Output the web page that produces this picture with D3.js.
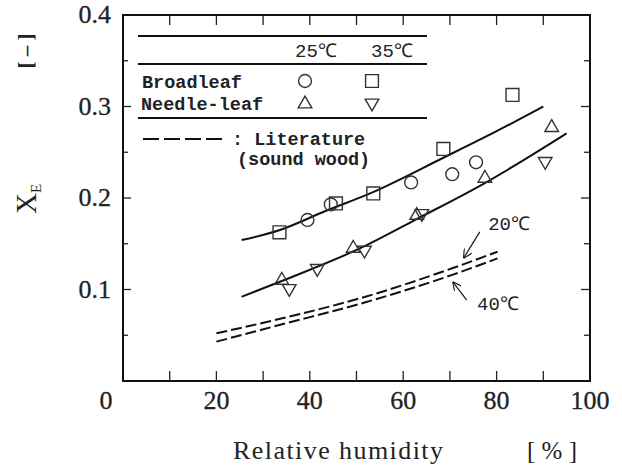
<!DOCTYPE html>
<html lang="en">
<head>
<meta charset="utf-8">
<title>XE vs relative humidity</title>
<style>
body { margin: 0; background: #fff; }
svg { display: block; }
.tick text { font-family: "Liberation Serif", serif; font-size: 26px; fill: #222; stroke: #222; stroke-width: 0.3px; }
.leg { font-family: "Liberation Mono", monospace; font-weight: bold; font-size: 18.5px; fill: #222; }
.temp { font-family: "Liberation Mono", monospace; font-size: 19px; fill: #222; }
</style>
</head>
<body>
<div id="chart"></div>
<script src="https://cdn.jsdelivr.net/npm/d3@7"></script>
<script>

var broad25X = [39.5, 44.5, 61.7, 70.5, 75.6];
var broad25Y = [0.176, 0.193, 0.217, 0.226, 0.239];
var broad35X = [33.5, 45.6, 53.6, 68.6, 83.4];
var broad35Y = [0.1625, 0.194, 0.205, 0.2536, 0.3126];
var needle25X = [34.0, 49.3, 62.9, 77.5, 91.8];
var needle25Y = [0.110, 0.145, 0.181, 0.2215, 0.277];
var needle35X = [35.6, 41.6, 51.7, 64.0, 90.4];
var needle35Y = [0.101, 0.123, 0.143, 0.183, 0.240];

// fitted curves (solid)
var fitBroadX = [25.4, 33.6, 43, 52.9, 68.6, 80, 90];
var fitBroadY = [0.154, 0.165, 0.185, 0.205, 0.244, 0.273, 0.300];
var fitNeedleX = [25.4, 33.6, 51.5, 62.9, 77.2, 95];
var fitNeedleY = [0.092, 0.1085, 0.1468, 0.177, 0.2155, 0.2707];

// literature curves (dashed)
var lit20X = [20, 34.1, 51.9, 70.5, 80.2];
var lit20Y = [0.0521, 0.0685, 0.0921, 0.1232, 0.1413];
var lit40X = [20, 34.1, 51.9, 70.5, 80.2];
var lit40Y = [0.043, 0.062, 0.086, 0.116, 0.134];

var xTickLabels = [20, 40, 60, 80, 100];
var yTickLabels = [0.1, 0.2, 0.3, 0.4];

var svg = d3.select("#chart").append("svg").attr("width", 622).attr("height", 467);

// plot frame (note: "top" is taken by window.top)
var pLeft = 123, pRight = 590, pTop = 15, pBottom = 381;
var x = d3.scaleLinear().domain([0, 100]).range([pLeft, pRight]);
var y = d3.scaleLinear().domain([0, 0.4]).range([pBottom, pTop]);

function zip(xs, ys) { return xs.map(function(d, i) { return [d, ys[i]]; }); }

// ticks, all pointing inward
var xTicks = d3.range(0, 101, 10);
var yTicks = d3.range(0, 0.4001, 0.05);

svg.append("g").selectAll("line").data(xTicks).join("line")
  .attr("x1", d => x(d)).attr("x2", d => x(d))
  .attr("y1", pBottom).attr("y2", pBottom - 10)
  .attr("stroke", "#222").attr("stroke-width", 1.3);
svg.append("g").selectAll("line").data(xTicks).join("line")
  .attr("x1", d => x(d)).attr("x2", d => x(d))
  .attr("y1", pTop).attr("y2", pTop + 10)
  .attr("stroke", "#222").attr("stroke-width", 1.3);
svg.append("g").selectAll("line").data(yTicks).join("line")
  .attr("x1", pLeft).attr("x2", (d, i) => pLeft + (i % 2 ? 5 : 8))
  .attr("y1", d => y(d)).attr("y2", d => y(d))
  .attr("stroke", "#222").attr("stroke-width", 1.3);
svg.append("g").selectAll("line").data(yTicks).join("line")
  .attr("x1", pRight).attr("x2", (d, i) => pRight - (i % 2 ? 6 : 9))
  .attr("y1", d => y(d)).attr("y2", d => y(d))
  .attr("stroke", "#222").attr("stroke-width", 1.3);

svg.append("rect")
  .attr("x", pLeft).attr("y", pTop)
  .attr("width", pRight - pLeft).attr("height", pBottom - pTop)
  .attr("fill", "none").attr("stroke", "#111").attr("stroke-width", 2);

// tick labels
var tl = svg.append("g").attr("class", "tick");
tl.selectAll("text.xl").data(xTickLabels).join("text").attr("class", "xl")
  .attr("x", d => x(d)).attr("y", 409).attr("text-anchor", "middle").text(d => d);
tl.selectAll("text.yl").data(yTickLabels).join("text").attr("class", "yl")
  .attr("x", 111).attr("y", d => y(d) + 8).attr("text-anchor", "end").text(d => d.toFixed(1));
tl.append("text").attr("x", 106).attr("y", 409).attr("text-anchor", "middle").text("0");

// axis titles
svg.append("text")
  .attr("x", 233).attr("y", 459)
  .attr("font-family", "Liberation Serif, serif").attr("font-size", 26).attr("fill", "#222")
  .attr("textLength", 210).attr("lengthAdjust", "spacing")
  .text("Relative  humidity");
svg.append("text")
  .attr("x", 552).attr("y", 459).attr("text-anchor", "middle")
  .attr("font-family", "Liberation Serif, serif").attr("font-size", 25).attr("fill", "#222")
  .text("[ % ]");

var yl = svg.append("text")
  .attr("transform", "translate(36,214) rotate(-90)")
  .attr("font-family", "Liberation Serif, serif").attr("font-size", 29).attr("fill", "#222");
yl.append("tspan").text("X");
yl.append("tspan").attr("font-size", 15).attr("dy", 5).text("E");
svg.append("text")
  .attr("transform", "translate(33,51) rotate(-90)")
  .attr("text-anchor", "middle")
  .attr("font-family", "Liberation Serif, serif").attr("font-size", 21).attr("font-weight", "bold").attr("fill", "#222")
  .text("[ – ]");

// curves
var line = d3.line().x(d => x(d[0])).y(d => y(d[1])).curve(d3.curveMonotoneX);

svg.append("path").attr("d", line(zip(fitBroadX, fitBroadY)))
  .attr("fill", "none").attr("stroke", "#111").attr("stroke-width", 2);
svg.append("path").attr("d", line(zip(fitNeedleX, fitNeedleY)))
  .attr("fill", "none").attr("stroke", "#111").attr("stroke-width", 2);
svg.append("path").attr("d", line(zip(lit20X, lit20Y)))
  .attr("fill", "none").attr("stroke", "#111").attr("stroke-width", 2).attr("stroke-dasharray", "11,4");
svg.append("path").attr("d", line(zip(lit40X, lit40Y)))
  .attr("fill", "none").attr("stroke", "#111").attr("stroke-width", 2).attr("stroke-dasharray", "11,4");

// markers
var symCircle = d3.symbol().type(d3.symbolCircle).size(130)();
var symSquare = d3.symbol().type(d3.symbolSquare).size(165)();
var symTri = d3.symbol().type(d3.symbolTriangle).size(80)();

function drawSeries(xs, ys, path, rot) {
  svg.append("g").selectAll("path").data(zip(xs, ys)).join("path")
    .attr("d", path)
    .attr("transform", d => "translate(" + x(d[0]) + "," + y(d[1]) + ") rotate(" + rot + ")")
    .attr("fill", "none").attr("stroke", "#333").attr("stroke-width", 1.4);
}
drawSeries(broad35X, broad35Y, symSquare, 0);
drawSeries(broad25X, broad25Y, symCircle, 0);
drawSeries(needle25X, needle25Y, symTri, 0);
drawSeries(needle35X, needle35Y, symTri, 180);

// temperature annotations with arrows
svg.append("defs").append("marker")
  .attr("id", "arr").attr("viewBox", "0 0 10 10").attr("refX", 10).attr("refY", 5)
  .attr("markerWidth", 9).attr("markerHeight", 9).attr("markerUnits", "userSpaceOnUse")
  .attr("orient", "auto")
  .append("path").attr("d", "M0,0 L10,5 L0,10").attr("fill", "none").attr("stroke", "#222").attr("stroke-width", 1.3);

svg.append("line")
  .attr("x1", x(76.4)).attr("y1", y(0.163)).attr("x2", x(72.9)).attr("y2", y(0.134))
  .attr("stroke", "#222").attr("stroke-width", 1.3).attr("marker-end", "url(#arr)");
svg.append("line")
  .attr("x1", x(73.6)).attr("y1", y(0.0885)).attr("x2", x(70.6)).attr("y2", y(0.1085))
  .attr("stroke", "#222").attr("stroke-width", 1.3).attr("marker-end", "url(#arr)");
svg.append("text").attr("class", "temp").attr("x", x(78.2)).attr("y", y(0.165)).text("20℃");
svg.append("text").attr("class", "temp").attr("x", x(75.8)).attr("y", y(0.078)).text("40℃");

// legend box
var leg = svg.append("g");
[36, 64, 118].forEach(function(yy) {
  leg.append("line").attr("x1", 138).attr("x2", 427).attr("y1", yy).attr("y2", yy)
    .attr("stroke", "#111").attr("stroke-width", 2);
});
leg.append("text").attr("class", "temp").attr("x", 316).attr("y", 57).attr("text-anchor", "middle").text("25℃");
leg.append("text").attr("class", "temp").attr("x", 392).attr("y", 57).attr("text-anchor", "middle").text("35℃");
leg.append("text").attr("class", "leg").attr("x", 142).attr("y", 88).text("Broadleaf");
leg.append("text").attr("class", "leg").attr("x", 141).attr("y", 110).text("Needle-leaf");
leg.append("path").attr("d", symCircle).attr("transform", "translate(305,81)")
  .attr("fill", "none").attr("stroke", "#333").attr("stroke-width", 1.4);
leg.append("path").attr("d", symSquare).attr("transform", "translate(372,81)")
  .attr("fill", "none").attr("stroke", "#333").attr("stroke-width", 1.4);
leg.append("path").attr("d", symTri).attr("transform", "translate(305,104)")
  .attr("fill", "none").attr("stroke", "#333").attr("stroke-width", 1.4);
leg.append("path").attr("d", symTri).attr("transform", "translate(372,103) rotate(180)")
  .attr("fill", "none").attr("stroke", "#333").attr("stroke-width", 1.4);
leg.append("line").attr("x1", 143).attr("x2", 222).attr("y1", 139).attr("y2", 139)
  .attr("stroke", "#111").attr("stroke-width", 2).attr("stroke-dasharray", "16,5");
leg.append("text").attr("class", "leg").attr("x", 232).attr("y", 145).text(": Literature");
leg.append("text").attr("class", "leg").attr("x", 237).attr("y", 165).text("(sound wood)");

</script>
</body>
</html>
